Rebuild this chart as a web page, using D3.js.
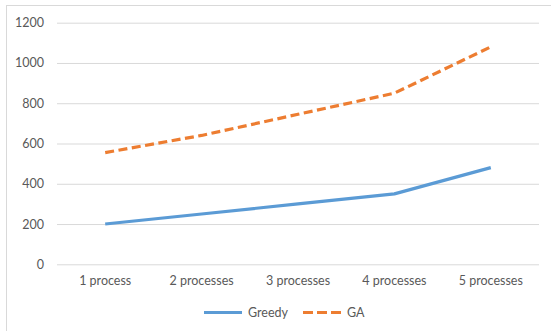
<!DOCTYPE html>
<html>
<head>
<meta charset="utf-8">
<script src="https://cdn.jsdelivr.net/npm/d3@7"></script>
<style>
    body { margin: 0; background: #fff; }
    svg text { font-family: Lato, "Liberation Sans", sans-serif; fill: #595959; }
</style>
</head>
<body>
<div id="chart"></div>
<script>
// data
const categories = ['1 process', '2 processes', '3 processes', '4 processes', '5 processes'];
const greedy = [200, 250, 300, 350, 480];
const ga = [555, 640, 745, 850, 1080];
const yTicks = [0, 200, 400, 600, 800, 1000, 1200];

const width = 551;
const height = 331;
const plot = { left: 57, right: 539, top: 22.7, bottom: 264.3 };

const svg = d3.select('#chart').append('svg')
    .attr('width', width)
    .attr('height', height);

// chart frame
svg.append('rect')
    .attr('x', 6.5).attr('y', 5.5)
    .attr('width', 600).attr('height', 400)
    .attr('fill', 'none')
    .attr('stroke', '#d9d9d9');

const x = d3.scaleBand()
    .domain(categories)
    .range([plot.left, plot.right]);

const y = d3.scaleLinear()
    .domain([0, 1200])
    .range([plot.bottom, plot.top]);

// gridlines + y labels
const yAxis = svg.append('g')
    .attr('transform', `translate(${plot.left},0)`)
    .call(d3.axisLeft(y).tickValues(yTicks).tickFormat(d3.format('d'))
        .tickSize(-(plot.right - plot.left)).tickPadding(13));
yAxis.select('.domain').remove();
yAxis.selectAll('line').attr('stroke', '#d9d9d9');
yAxis.selectAll('text').attr('font-size', '12.5px').style('fill', '#595959');

// x labels
const xAxis = svg.append('g')
    .attr('transform', `translate(0,${plot.bottom})`)
    .call(d3.axisBottom(x).tickSize(0).tickPadding(12));
xAxis.select('.domain').remove();
xAxis.selectAll('text').attr('font-size', '12.5px').style('fill', '#595959');

const line = d3.line()
    .x((d, i) => x(categories[i]) + x.bandwidth() / 2)
    .y(d => y(d));

svg.append('path')
    .datum(greedy)
    .attr('d', line)
    .attr('fill', 'none')
    .attr('stroke', '#5b9bd5')
    .attr('stroke-width', 3.2)
    .attr('stroke-linejoin', 'round');

svg.append('path')
    .datum(ga)
    .attr('d', line)
    .attr('fill', 'none')
    .attr('stroke', '#ed7d31')
    .attr('stroke-width', 3.2)
    .attr('stroke-dasharray', '9,4.5')
    .attr('stroke-linejoin', 'round');

// legend
const legendY = 312.5;
const legend = [
    { name: 'Greedy', color: '#5b9bd5', dash: null, x: 204 },
    { name: 'GA', color: '#ed7d31', dash: '10,4', x: 303 }
];
legend.forEach(item => {
    svg.append('line')
        .attr('x1', item.x).attr('x2', item.x + 38)
        .attr('y1', legendY).attr('y2', legendY)
        .attr('stroke', item.color)
        .attr('stroke-width', 3.2)
        .attr('stroke-dasharray', item.dash);
    svg.append('text')
        .attr('x', item.x + 44)
        .attr('y', legendY)
        .attr('dy', '0.35em')
        .attr('font-size', '12.5px')
        .text(item.name);
});
</script>
</body>
</html>
